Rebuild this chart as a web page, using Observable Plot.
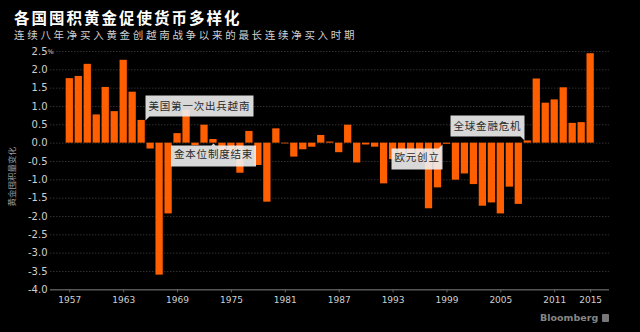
<!DOCTYPE html>
<html>
<head>
<meta charset="utf-8">
<script src="https://cdn.jsdelivr.net/npm/d3@7"></script>
<script src="https://cdn.jsdelivr.net/npm/@observablehq/plot@0.6"></script>
<style>
  html, body { margin: 0; padding: 0; background: #000; }
  #wrap { position: relative; width: 640px; height: 332px; overflow: hidden; background: #000; }
  #title { position: absolute; left: 14px; top: 10px; font-family: "Noto Sans CJK SC", sans-serif; font-weight: 700; font-size: 15.5px; line-height: 1; letter-spacing: 2px; color: #fff; white-space: nowrap; }
  #subtitle { position: absolute; left: 14px; top: 29.5px; font-family: "Noto Sans CJK SC", sans-serif; font-size: 10.5px; line-height: 1; letter-spacing: 2.7px; color: #d0d0d0; white-space: nowrap; }
  #chart { position: absolute; left: 0; top: 40px; }
  #credit { position: absolute; left: 540px; top: 313px; font-family: "DejaVu Sans", sans-serif; font-size: 9.5px; font-weight: 700; color: #858585; white-space: nowrap; line-height: 1; }
  #credit span { display: inline-block; width: 7px; height: 8px; background: #777; border-radius: 1px; margin-left: 4px; vertical-align: -1px; }
  [aria-label="tip"] { color: #2a2a2a; }
  [aria-label="tip"] text { letter-spacing: 0.8px; }
</style>
</head>
<body>
<div id="wrap">
  <div id="title">各国囤积黄金促使货币多样化</div>
  <div id="subtitle">连续八年净买入黄金创越南战争以来的最长连续净买入时期</div>
  <div id="chart"></div>
  <div id="credit">Bloomberg<span></span></div>
</div>
<script>
const years = d3.range(1957, 2016);
const values = [
  1.76, 1.82, 2.15, 0.77, 1.52, 0.86, 2.26, 1.39, 0.62, -0.16,
  -3.60, -1.93, 0.26, 0.90, -0.07, 0.49, 0.10, -0.30, -0.35, -0.82,
  0.32, -0.61, -1.61, 0.39, -0.02, -0.38, -0.18, -0.11, 0.21, 0.03,
  -0.26, 0.49, -0.54, -0.05, -0.11, -1.11, -0.45, -0.40, -0.45, -0.40,
  -1.79, -1.22, -0.03, -1.01, -0.84, -1.13, -1.72, -1.63, -1.93, -1.20,
  -1.67, 0.06, 1.75, 1.09, 1.18, 1.51, 0.54, 0.56, 2.44
];
const xTicks = [1957, 1963, 1969, 1975, 1981, 1987, 1993, 1999, 2005, 2011, 2015];
const yTicks = [2.5, 2.0, 1.5, 1.0, 0.5, 0.0, -0.5, -1.0, -1.5, -2.0, -2.5, -3.0, -3.5, -4.0];
const yLabel = "黄金囤积量变化";
const annotLabels = ["美国第一次出兵越南", "金本位制度结束", "欧元创立", "全球金融危机"];
const annotYears = [1965, 1973, 1999, 2008];
const annotAnchors = ["bottom-left", "top", "top-right", "bottom-right"];
const annotDx = [4, 0, -4, -3];

const data = years.map((year, i) => ({year, value: values[i]}));
const valueOf = new Map(data.map(d => [d.year, d.value]));
const annots = annotLabels.map((label, i) => {
  const v = valueOf.get(annotYears[i]);
  const anchor = annotAnchors[i];
  return {label, year: annotYears[i], y: anchor.startsWith("bottom") ? Math.max(v, 0) : Math.min(v, 0), anchor, dx: annotDx[i]};
});

const halfWidth = 0.405;
const yMin = d3.min(yTicks), yMax = d3.max(yTicks);

const chart = Plot.plot({
  width: 640,
  height: 270,
  marginLeft: 50,
  marginRight: 31,
  marginTop: 11,
  marginBottom: 20.7,
  style: {background: "transparent", color: "#ccc", fontFamily: "DejaVu Sans, sans-serif"},
  x: {domain: [1954.85, 2017.1]},
  y: {domain: [yMin, yMax]},
  marks: [
    Plot.gridY(yTicks, {stroke: "#303030", strokeOpacity: 1, strokeDasharray: "1.5,1.5"}),
    Plot.rectY(data, {x1: d => d.year - halfWidth, x2: d => d.year + halfWidth, y: "value", fill: "#ff5f00"}),
    Plot.ruleY([yMin], {stroke: "#555", strokeWidth: 1.5}),
    Plot.axisY({ticks: yTicks, tickSize: 0, tickPadding: 3, tickFormat: d => d.toFixed(1), fontSize: 10, fill: "#cfcfcf", label: null}),
    Plot.text([yMax], {y: d => d, text: () => "%", frameAnchor: "left", textAnchor: "start", dx: -3, fontSize: 6.5, fill: "#cfcfcf"}),
    Plot.axisX({ticks: xTicks, tickSize: 3, tickPadding: 4, tickFormat: d => String(d), fontSize: 9, fill: "#cfcfcf", stroke: "#666", label: null}),
    Plot.text([yLabel], {text: d => d, frameAnchor: "left", textAnchor: "middle", rotate: -90, dx: -38, dy: 6, fontSize: 8.5, fill: "#9a9a9a", fontFamily: "Noto Sans CJK SC"}),
    ...annots.map(a => Plot.tip([a], {
      x: "year", y: "y", title: "label", anchor: a.anchor, dx: a.dx,
      pointerSize: 4, textPadding: 3, fontSize: 10.5, fontFamily: "Noto Sans CJK SC",
      fill: "#efefef", fillOpacity: 0.9, stroke: "none", pathFilter: "none"
    }))
  ]
});
document.getElementById("chart").appendChild(chart);
</script>
</body>
</html>
